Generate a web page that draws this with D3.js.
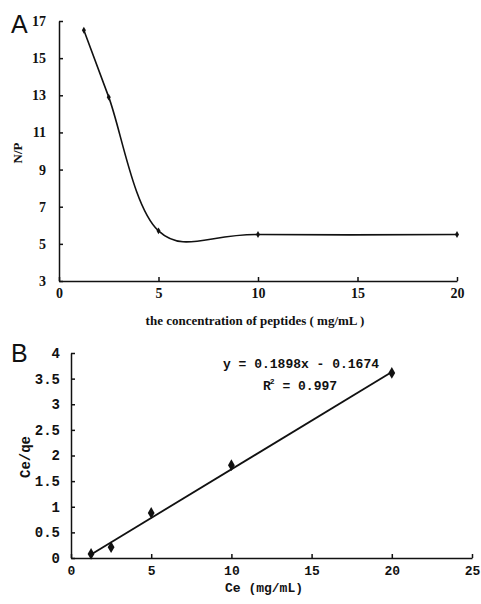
<!DOCTYPE html>
<html><head><meta charset="utf-8">
<script src="https://cdn.jsdelivr.net/npm/d3@7"></script>
<style>
html,body{margin:0;padding:0;background:#fff;}
svg{display:block;}
</style></head>
<body>
<svg id="c" width="481" height="604"></svg>
<script>
// Panel A data
const concA = [1.25, 2.5, 5, 10, 20];
const npRatio = [16.5, 12.9, 5.7, 5.5, 5.5];
const ticksAX = [0, 5, 10, 15, 20];
const ticksAY = [3, 5, 7, 9, 11, 13, 15, 17];
// Panel B data
const ceB = [1.25, 2.5, 5, 10, 20];
const ceqe = [0.08, 0.21, 0.88, 1.81, 3.61];
const fitSlope = 0.1898;
const fitIntercept = -0.1674;
const fitR2 = 0.997;
const ticksBX = [0, 5, 10, 15, 20, 25];
const ticksBY = [0, 0.5, 1, 1.5, 2, 2.5, 3, 3.5, 4];

const svg = d3.select("#c");
const ink = "#111";

// ---------- Panel A ----------
const xA = d3.scaleLinear().domain([0, 20]).range([59, 457]);
const yA = d3.scaleLinear().domain([3, 17]).range([281, 21]);
const gA = svg.append("g");

const axAY = gA.append("g").attr("transform", `translate(${xA(0)},0)`)
  .call(d3.axisLeft(yA).tickValues(ticksAY).tickSizeInner(-4).tickSizeOuter(0).tickPadding(13).tickFormat(d3.format("d")));
const axAX = gA.append("g").attr("transform", `translate(0,${yA(3)})`)
  .call(d3.axisBottom(xA).tickValues(ticksAX).tickSizeInner(-4).tickSizeOuter(0).tickPadding(7).tickFormat(d3.format("d")));
[axAY, axAX].forEach(a => {
  a.selectAll("path,line").attr("stroke", ink).attr("stroke-width", 1.5);
  a.selectAll("text").attr("font-family", "'Liberation Serif', serif").attr("font-size", 14).attr("font-weight", 600).attr("fill", ink);
});

gA.append("path")
  .datum(concA.map((c, i) => [c, npRatio[i]]))
  .attr("fill", "none").attr("stroke", ink).attr("stroke-width", 1.6)
  .attr("d", d3.line().x(d => xA(d[0])).y(d => yA(d[1])).curve(d3.curveCardinal.tension(0)));

gA.selectAll(".mA").data(concA).join("path")
  .attr("transform", (c, i) => `translate(${xA(c)},${yA(npRatio[i])})`)
  .attr("d", d3.symbol(d3.symbolDiamond, 14)())
  .attr("fill", ink);

gA.append("text").text("A").attr("x", 11).attr("y", 33)
  .attr("font-family", "'Liberation Sans', Arial, sans-serif").attr("font-size", 25).attr("fill", ink);
gA.append("text").text("N/P")
  .attr("transform", `translate(22,153) rotate(-90)`).attr("text-anchor", "middle")
  .attr("font-family", "'Liberation Serif', serif").attr("font-size", 13).attr("font-weight", 600).attr("fill", ink);
gA.append("text").text("the concentration of peptides ( mg/mL )")
  .attr("x", 255).attr("y", 325).attr("text-anchor", "middle")
  .attr("font-family", "'Liberation Serif', serif").attr("font-size", 13).attr("font-weight", 600).attr("fill", ink);

// ---------- Panel B ----------
const xB = d3.scaleLinear().domain([0, 25]).range([71, 472]);
const yB = d3.scaleLinear().domain([0, 4]).range([558, 353]);
const gB = svg.append("g");
const mono = "'Liberation Mono', 'Courier New', monospace";

const axBY = gB.append("g").attr("transform", `translate(${xB(0)},0)`)
  .call(d3.axisLeft(yB).tickValues(ticksBY).tickSizeInner(-4).tickSizeOuter(0).tickPadding(11).tickFormat(d => String(d)));
const axBX = gB.append("g").attr("transform", `translate(0,${yB(0)})`)
  .call(d3.axisBottom(xB).tickValues(ticksBX).tickSizeInner(-4).tickSizeOuter(0).tickPadding(8).tickFormat(d3.format("d")));
[axBY, axBX].forEach(a => {
  a.selectAll("path,line").attr("stroke", ink).attr("stroke-width", 1.5);
  a.selectAll("text").attr("font-family", mono).attr("font-size", 14).attr("font-weight", 700).attr("fill", ink);
});
axBX.selectAll("text").attr("font-size", 13);

const ext = d3.extent(ceB);
gB.append("line")
  .attr("x1", xB(ext[0])).attr("y1", yB(fitSlope * ext[0] + fitIntercept))
  .attr("x2", xB(ext[1])).attr("y2", yB(fitSlope * ext[1] + fitIntercept))
  .attr("stroke", ink).attr("stroke-width", 1.8);

gB.selectAll(".mB").data(ceB).join("path")
  .attr("transform", (c, i) => `translate(${xB(c)},${yB(ceqe[i])})`)
  .attr("d", d3.symbol(d3.symbolDiamond, 40)())
  .attr("fill", ink);

gB.append("text").text("B").attr("x", 11).attr("y", 362)
  .attr("font-family", "'Liberation Sans', Arial, sans-serif").attr("font-size", 25).attr("fill", ink);
gB.append("text").text("Ce/qe")
  .attr("transform", `translate(30,457) rotate(-90)`).attr("text-anchor", "middle")
  .attr("font-family", mono).attr("font-size", 14).attr("font-weight", 700).attr("fill", ink);
gB.append("text").text("Ce (mg/mL)")
  .attr("x", 264).attr("y", 592).attr("text-anchor", "middle")
  .attr("font-family", mono).attr("font-size", 13).attr("font-weight", 700).attr("fill", ink);

gB.append("text").text(`y = ${fitSlope}x - ${Math.abs(fitIntercept)}`)
  .attr("x", 223).attr("y", 368)
  .attr("font-family", mono).attr("font-size", 13).attr("font-weight", 700).attr("fill", ink);
const r2 = gB.append("text").attr("x", 263).attr("y", 390)
  .attr("font-family", mono).attr("font-size", 13).attr("font-weight", 700).attr("fill", ink);
r2.append("tspan").text("R");
r2.append("tspan").text("2").attr("font-size", 8).attr("dy", -6).attr("dx", -1);
r2.append("tspan").text(` = ${fitR2}`).attr("dy", 6);
</script>
</body></html>
